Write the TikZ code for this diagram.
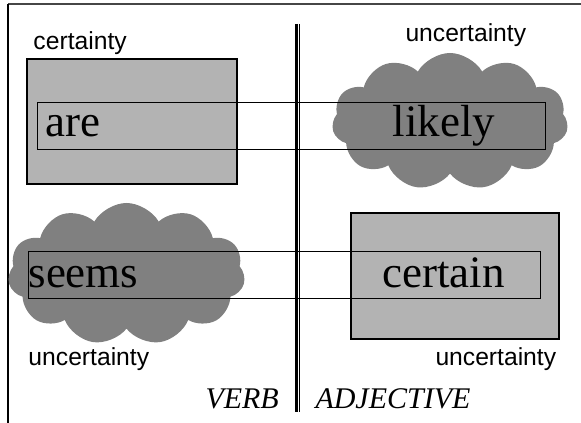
\documentclass[tikz,border=0pt]{standalone}
\usepackage{fontspec}
\setmainfont{Liberation Serif}
\newfontfamily\labelfont{Liberation Sans}
\usetikzlibrary{shapes.symbols}

\definecolor{boxgray}{RGB}{179,179,179}
\definecolor{cloudgray}{RGB}{128,128,128}
\definecolor{framegray}{RGB}{70,70,70}

\tikzset{every picture/.style={line width=0.75pt}}
\tikzset{
  certbox/.style={draw=black, fill=boxgray, line width=1.5pt},
  uncloud/.style={cloud, cloud puffs=11, cloud puff arc=120, fill=cloudgray, draw=none, inner sep=0pt},
  pairbox/.style={draw=black, line width=0.75pt},
  bigword/.style={anchor=base west, inner sep=0pt, font=\fontsize{33.75}{36}\selectfont},
  smallword/.style={anchor=base west, inner sep=0pt, font=\labelfont\fontsize{18.5}{20}\selectfont},
  classword/.style={anchor=base west, inner sep=0pt, font=\itshape\fontsize{22.5}{24}\selectfont}
}

\begin{document}
\begin{tikzpicture}[x=0.75pt,y=0.75pt,yscale=-1]
\useasboundingbox (0,0) rectangle (581,423);

%Frame
\draw [color=framegray, line width=1.5pt] (8,4) -- (581,4) ;
\draw [line width=1.5pt] (8,4) -- (8,423) ;

%Certainty boxes
\draw [certbox] (27,59) rectangle (237,184) ;
\draw [certbox] (351,213) rectangle (559,339) ;

%Uncertainty clouds
\node [uncloud, minimum width=236*0.75pt, minimum height=137*0.75pt] (cloudlikely) at (450,121.5) {};
\node [uncloud, minimum width=237*0.75pt, minimum height=142*0.75pt] (cloudseems) at (126.5,274) {};

%Pair frames
\draw [pairbox] (37,103) rectangle (545,150) ;
\draw [pairbox] (28,252) rectangle (540,299) ;

%Divider
\draw [line width=2.4pt] (296.5,24) -- (296.5,412) ;
\draw [line width=0.75pt] (299.7,24) -- (299.7,412) ;

% Text Node
\node [bigword] (are) at (45,137) {are};
\node [bigword] (likely) at (392,137) {likely};
\node [bigword] (seems) at (28,288) {seems};
\node [bigword] (certain) at (382,288) {certain};
% Text Node
\node [smallword] (certtop) at (33,50) {certainty};
\node [smallword] (unctop) at (405,42) {uncertainty};
\node [smallword] (uncleft) at (28,365) {uncertainty};
\node [smallword] (uncright) at (435,365) {uncertainty};
% Text Node
\node [classword] (verb) at (205,408) {VERB};
\node [classword] (adj) at (315,408) {ADJECTIVE};

\end{tikzpicture}
\end{document}
